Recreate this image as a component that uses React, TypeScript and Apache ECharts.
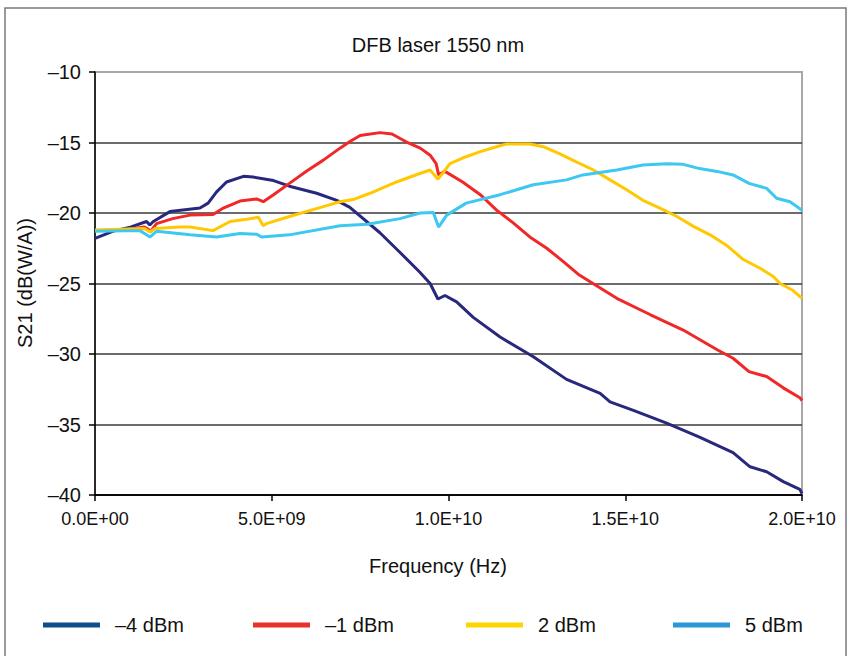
import React, { useEffect, useRef } from "react";
import * as echarts from "echarts";

// ---- Data (frequency in GHz, S21 in dB(W/A)) ----
const seriesNames = ["–4 dBm", "–1 dBm", "2 dBm", "5 dBm"];

const fM4 = [0, 0.5, 1.0, 1.46, 1.55, 1.65, 2.12, 2.97, 3.2, 3.44, 3.72, 4.2, 4.47, 5.05, 5.5, 6.27, 6.84, 7.21, 8.06, 8.63, 9.19, 9.48, 9.7, 9.9, 10.23, 10.7, 11.46, 12.4, 13.34, 14.29, 14.57, 15.23, 16.17, 17.1, 18.05, 18.53, 19.0, 19.47, 19.94, 20.0];
const vM4 = [-21.8, -21.3, -21.0, -20.6, -20.85, -20.6, -19.9, -19.65, -19.3, -18.5, -17.8, -17.4, -17.45, -17.7, -18.1, -18.6, -19.1, -19.6, -21.4, -22.8, -24.2, -25.0, -26.1, -25.85, -26.3, -27.4, -28.8, -30.2, -31.8, -32.8, -33.4, -34.0, -34.9, -35.9, -37.0, -38.0, -38.35, -39.05, -39.6, -39.9];

const fM1 = [0, 0.8, 1.4, 1.51, 1.56, 1.74, 2.2, 2.69, 3.34, 3.63, 4.1, 4.57, 4.76, 5.05, 5.5, 6.0, 6.46, 6.93, 7.2, 7.5, 8.06, 8.4, 8.8, 9.2, 9.48, 9.65, 9.72, 9.9, 10.4, 10.9, 11.36, 11.83, 12.3, 12.78, 13.25, 13.7, 14.76, 15.7, 16.64, 17.6, 18.05, 18.5, 19.0, 19.47, 19.94, 20.0];
const vM1 = [-21.25, -21.2, -21.0, -21.15, -21.35, -20.75, -20.4, -20.15, -20.1, -19.65, -19.15, -19.0, -19.2, -18.7, -17.9, -17.0, -16.25, -15.4, -14.95, -14.5, -14.3, -14.4, -14.95, -15.4, -15.9, -16.5, -17.3, -17.05, -17.8, -18.7, -19.8, -20.7, -21.7, -22.5, -23.45, -24.4, -26.05, -27.2, -28.3, -29.7, -30.3, -31.25, -31.6, -32.4, -33.1, -33.3];

const fP2 = [0, 1.4, 1.56, 1.7, 2.4, 2.69, 3.34, 3.82, 4.29, 4.62, 4.76, 4.85, 5.5, 6.46, 6.93, 7.3, 7.78, 8.53, 9.19, 9.48, 9.7, 9.86, 10.04, 10.4, 10.9, 11.36, 11.65, 12.3, 12.68, 13.15, 13.6, 14.1, 14.57, 15.04, 15.5, 15.98, 16.46, 16.93, 17.4, 17.87, 18.34, 18.8, 19.19, 19.38, 19.75, 20.0];
const vP2 = [-21.2, -21.1, -21.35, -21.1, -21.0, -21.0, -21.25, -20.6, -20.45, -20.3, -20.9, -20.75, -20.25, -19.55, -19.2, -19.05, -18.6, -17.8, -17.2, -16.95, -17.6, -17.1, -16.5, -16.1, -15.65, -15.3, -15.1, -15.1, -15.3, -15.8, -16.35, -16.95, -17.65, -18.35, -19.1, -19.65, -20.25, -20.95, -21.55, -22.3, -23.3, -23.9, -24.5, -25.0, -25.5, -26.05];

const fP5 = [0, 1.27, 1.56, 1.74, 2.69, 3.44, 4.1, 4.57, 4.71, 5.5, 6.93, 7.7, 8.63, 9.2, 9.57, 9.72, 9.95, 10.5, 11.46, 12.4, 13.34, 13.8, 14.76, 15.5, 16.17, 16.64, 17.1, 17.6, 18.05, 18.5, 19.0, 19.28, 19.66, 20.0];
const vP5 = [-21.3, -21.25, -21.7, -21.3, -21.55, -21.7, -21.45, -21.5, -21.7, -21.55, -20.9, -20.8, -20.4, -20.0, -19.97, -21.0, -20.15, -19.3, -18.7, -18.0, -17.65, -17.3, -16.95, -16.6, -16.5, -16.55, -16.85, -17.05, -17.3, -17.9, -18.25, -18.95, -19.2, -19.8];

const xTickLabels = ["0.0E+00", "5.0E+09", "1.0E+10", "1.5E+10", "2.0E+10"];
const yTicks = [-40, -35, -30, -25, -20, -15, -10];

const lineColors = ["#28287c", "#f02828", "#ffc800", "#3cc8f0"];
const legendColors = ["#0d4f8b", "#e8312a", "#ffd500", "#2b98d6"];
const legendLeft = [43, 253, 466, 673];

const TEXT_FONT = "'Liberation Sans', Arial, sans-serif";
const NUM_FONT = "'Liberation Sans', Arial, sans-serif";

const toPairs = (f: number[], v: number[]) => f.map((x, i) => [x * 1e9, v[i]]);

export default function App() {
  const ref = useRef<HTMLDivElement>(null);
  useEffect(() => {
    if (!ref.current) return;
    const chart = echarts.init(ref.current, undefined, { renderer: "svg" });
    const datasets = [toPairs(fM4, vM4), toPairs(fM1, vM1), toPairs(fP2, vP2), toPairs(fP5, vP5)];
    const option = {
      animation: false,
      backgroundColor: "#ffffff",
      grid: {
        left: 95,
        top: 72,
        right: 45,
        bottom: 161,
        show: true,
        borderColor: "#a8a8a8",
        borderWidth: 2,
        backgroundColor: "transparent",
      },
      xAxis: {
        type: "value",
        min: 0,
        max: 2e10,
        interval: 5e9,
        axisLine: { show: true, onZero: false, lineStyle: { color: "#000", width: 1.5 } },
        axisTick: { show: true, length: 6, lineStyle: { color: "#000", width: 1.5 } },
        axisLabel: {
          margin: 15,
          fontFamily: NUM_FONT,
          fontSize: 18,
          color: "#111",
          formatter: (v: number) => xTickLabels[Math.round(v / 5e9)] ?? "",
        },
        splitLine: { show: false },
      },
      yAxis: {
        type: "value",
        min: -40,
        max: -10,
        interval: 5,
        axisLine: { show: true, lineStyle: { color: "#000", width: 1.5 } },
        axisTick: { show: true, length: 6, lineStyle: { color: "#000", width: 1.5 } },
        axisLabel: {
          margin: 14,
          fontFamily: TEXT_FONT,
          fontSize: 20,
          color: "#111",
          formatter: (v: number) => (yTicks.includes(v) ? String(v).replace("-", "–") : ""),
        },
        splitLine: {
          show: true,
          lineStyle: {
            color: ["#000", "#3a3a3a", "#3a3a3a", "#3a3a3a", "#3a3a3a", "#3a3a3a", "#a8a8a8"],
            width: 1.5,
          },
        },
      },
      legend: seriesNames.map((n, i) => ({
        data: [{ name: n, icon: "rect", itemStyle: { color: legendColors[i] } }],
        left: legendLeft[i],
        top: 615,
        padding: 0,
        itemWidth: 57,
        itemHeight: 5,
        selectedMode: false,
        textStyle: {
          fontFamily: TEXT_FONT,
          fontSize: 20,
          color: "#111",
          padding: [0, 0, 0, 10],
        },
      })),
      graphic: [
        {
          type: "rect",
          silent: true,
          shape: { x: 5, y: 8, width: 841, height: 700 },
          style: { fill: "none", stroke: "#7a7a7a", lineWidth: 1.5 },
        },
        {
          type: "text",
          x: 438,
          y: 45,
          style: {
            text: "DFB laser 1550 nm",
            fontFamily: TEXT_FONT,
            fontSize: 20,
            fill: "#111",
            textAlign: "center",
            textVerticalAlign: "middle",
          },
        },
        {
          type: "text",
          x: 438,
          y: 566,
          style: {
            text: "Frequency (Hz)",
            fontFamily: TEXT_FONT,
            fontSize: 20,
            fill: "#111",
            textAlign: "center",
            textVerticalAlign: "middle",
          },
        },
        {
          type: "text",
          x: 25,
          y: 283,
          rotation: Math.PI / 2,
          style: {
            text: "S21 (dB(W/A))",
            fontFamily: TEXT_FONT,
            fontSize: 20,
            fill: "#111",
            textAlign: "center",
            textVerticalAlign: "middle",
          },
        },
      ],
      series: seriesNames.map((n, i) => ({
        name: n,
        type: "line",
        data: datasets[i],
        showSymbol: false,
        symbol: "none",
        smooth: false,
        lineStyle: { color: lineColors[i], width: 3 },
        itemStyle: { color: lineColors[i] },
        z: 3,
      })),
    };
    chart.setOption(option);
    return () => chart.dispose();
  }, []);
  return (
    <div
      ref={ref}
      style={{ position: "absolute", left: 0, top: 0, width: 847, height: 656, background: "#fff" }}
    />
  );
}
